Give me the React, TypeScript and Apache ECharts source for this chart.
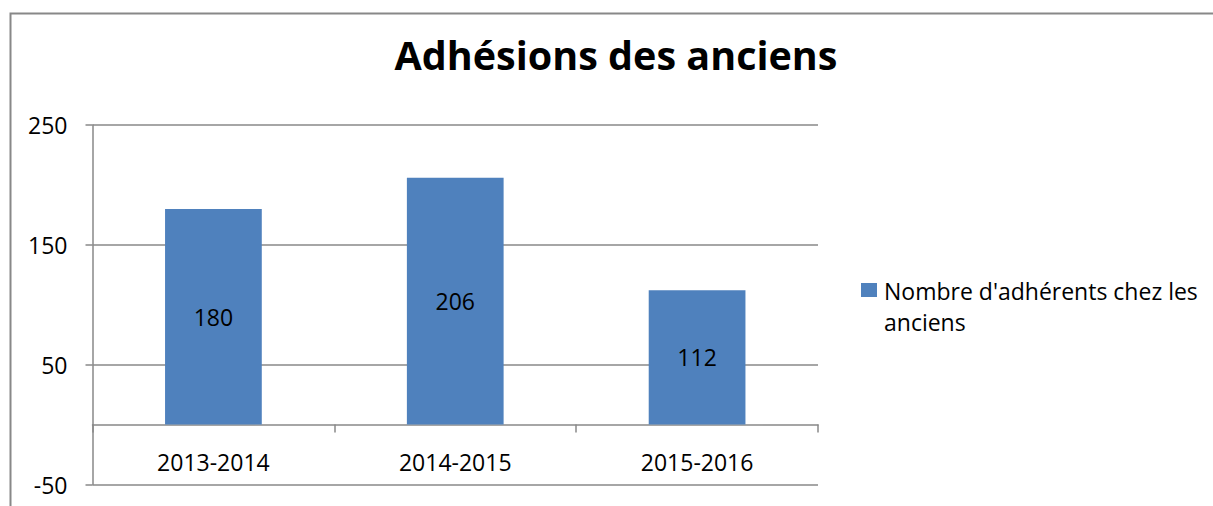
import React, { useEffect, useRef } from "react";
import * as echarts from "echarts";

const categories = ["2013-2014", "2014-2015", "2015-2016"];
const values = [180, 206, 112];
const seriesName = "Nombre d'adhérents chez les anciens";
const legendLines = ["Nombre d'adhérents chez les", "anciens"];
const titleText = "Adhésions des anciens";
const yMin = -50;
const yMax = 250;
const yInterval = 100;

const FONT = "'Open Sans', 'Noto Sans', sans-serif";
const GRAY = "#888888";
const BLUE = "#4F81BD";

export default function App() {
  const ref = useRef<HTMLDivElement>(null);
  useEffect(() => {
    if (!ref.current) return;
    const chart = echarts.init(ref.current, null, { renderer: "svg" });
    chart.setOption({
      animation: false,
      backgroundColor: "#ffffff",
      textStyle: { fontFamily: FONT },
      grid: {
        left: 92.5,
        right: 395,
        top: 125,
        bottom: 21.5,
        containLabel: false,
        outerBoundsMode: "none",
      },
      xAxis: {
        type: "category",
        data: categories,
        boundaryGap: true,
        axisLine: { show: true, onZero: true, lineStyle: { color: GRAY, width: 1.5 } },
        axisTick: { show: true, interval: 0, length: 8, lineStyle: { color: GRAY, width: 1.5 } },
        axisLabel: { color: "#000", fontSize: 23, fontFamily: FONT, margin: -34.5, interval: 0 },
        splitLine: { show: false },
      },
      yAxis: {
        type: "value",
        min: yMin,
        max: yMax,
        interval: yInterval,
        axisLine: { show: true, lineStyle: { color: GRAY, width: 1.5 } },
        axisTick: { show: true, length: 7, lineStyle: { color: GRAY, width: 1.5 } },
        axisLabel: { color: "#000", fontSize: 23, fontFamily: FONT, margin: 25 },
        splitLine: { show: true, lineStyle: { color: GRAY, width: 1.5 } },
      },
      series: [
        {
          name: seriesName,
          type: "bar",
          data: values,
          barWidth: "40%",
          itemStyle: { color: BLUE },
          label: {
            show: true,
            position: "inside",
            color: "#000",
            fontSize: 23,
            fontFamily: FONT,
          },
        },
      ],
      graphic: [
        {
          type: "rect",
          shape: { x: 10.5, y: 13.5, width: 1400, height: 700 },
          style: { fill: "none", stroke: GRAY, lineWidth: 2 },
          silent: true,
          z: 100,
        },
        {
          type: "text",
          x: 616,
          y: 55,
          style: {
            text: titleText,
            font: `bold 39.5px ${FONT}`,
            fill: "#000",
            textAlign: "center",
            textVerticalAlign: "middle",
          },
        },
        {
          type: "rect",
          shape: { x: 861, y: 283, width: 16, height: 14 },
          style: { fill: BLUE },
        },
        {
          type: "text",
          x: 884,
          y: 275.5,
          style: {
            text: legendLines.join("\n"),
            font: `23px ${FONT}`,
            lineHeight: 31,
            fill: "#000",
            textAlign: "left",
            textVerticalAlign: "top",
          },
        },
      ],
    });
    return () => chart.dispose();
  }, []);
  return (
    <div
      ref={ref}
      style={{ position: "fixed", left: 0, top: 0, width: 1213, height: 506 }}
    />
  );
}
